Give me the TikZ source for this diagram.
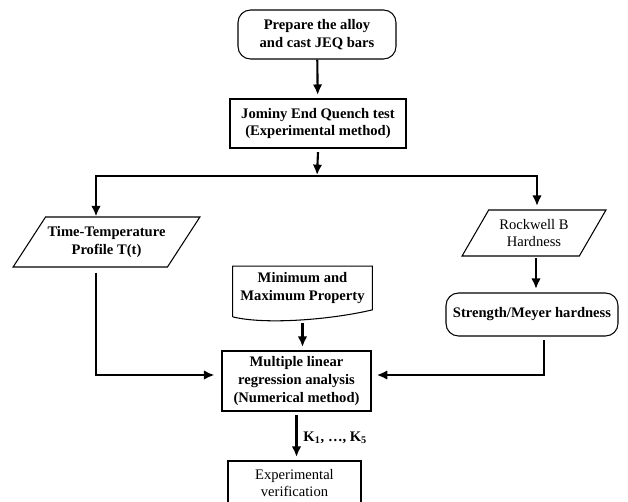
\documentclass[tikz,border=0pt]{standalone}
\usepackage{fontspec}
\setmainfont{Liberation Serif}
\usetikzlibrary{arrows.meta,shapes.geometric}

\begin{document}
\begin{tikzpicture}[>={Latex[length=2.1mm,width=1.9mm]},x=0.02cm,y=-0.02cm,
				every node/.style={font=\fontsize{8.3}{10.2}\selectfont,align=center},
				bold/.style={font=\fontsize{8.3}{10.2}\selectfont\bfseries},
				box/.style={draw,line width=0.6pt,inner sep=1pt},
				rbox/.style={box,rounded corners=2.5mm},
				iobox/.style={box,trapezium,trapezium stretches=true},
				conn/.style={line width=1.2pt,shorten >=2pt}]
				\useasboundingbox (0,0) rectangle (628,501);
				% boxes
				\node[rbox,bold,minimum width=3.16cm,minimum height=0.98cm] (prep) at (317,34.5) {Prepare the alloy\\and cast JEQ bars};
				\node[box,bold,minimum width=3.52cm,minimum height=0.98cm] (jom) at (318,123.5) {Jominy End Quench test\\(Experimental method)};
				\node[iobox,bold,trapezium left angle=47,trapezium right angle=133,
					minimum width=3.74cm,minimum height=1cm] (ttp) at (106.5,242) {Time-Temperature\\Profile T(t)};
				\node[iobox,trapezium left angle=56,trapezium right angle=124,
					minimum width=2.88cm,minimum height=0.92cm] (rock) at (534,233) {Rockwell B\\Hardness};
				\node[rbox,bold,minimum width=3.44cm,minimum height=0.86cm] (strength) at (532,314.5) {Strength/Meyer hardness};
				\node[bold,minimum width=2.78cm,minimum height=0.86cm] (minmax) at (302.5,288) {Minimum and\\Maximum Property};
				\draw[line width=0.6pt] ([yshift=-0.14cm]minmax.south west) -- (minmax.north west) -- (minmax.north east) -- (minmax.south east)
					.. controls +(-42,10) and +(32,8) .. ([yshift=-0.14cm]minmax.south west);
				\node[box,bold,minimum width=2.98cm,minimum height=1.2cm] (mlr) at (296.5,381) {Multiple linear\\regression analysis\\(Numerical method)};
				\node[box,minimum width=2.66cm,minimum height=0.88cm] (exp) at (294.5,483) {Experimental\\verification};
				% connectors
				\coordinate (split) at (317,176);
				\draw[conn,->] (prep) -- (jom);
				\draw[conn,->,shorten >=0.5pt] ([yshift=-2pt]jom.south) -- (split);
				\draw[conn,<->] ([xshift=-0.21cm]ttp.north) |- (split) -| ([xshift=0.06cm]rock.north);
				\draw[conn,->] ([xshift=0.04cm,yshift=-1pt]rock.south) -- ([xshift=0.04cm]rock.south |- strength.north);
				\draw[conn,->] ([yshift=-0.26cm]minmax.south) -- (minmax.south |- mlr.north);
				\draw[conn,->,shorten >=4pt] ([xshift=-0.21cm,yshift=-0.1cm]ttp.south) |- ([yshift=0.12cm]mlr.west);
				\draw[conn,->,shorten >=3pt] ([xshift=0.24cm,yshift=-2pt]strength.south) |- ([yshift=0.12cm]mlr.east);
				\draw[conn,->] ([yshift=-2pt]mlr.south) -- (mlr.south |- exp.north)
					node[midway,right,bold] {K\textsubscript{1}, …, K\textsubscript{5}};
\end{tikzpicture}
\end{document}
